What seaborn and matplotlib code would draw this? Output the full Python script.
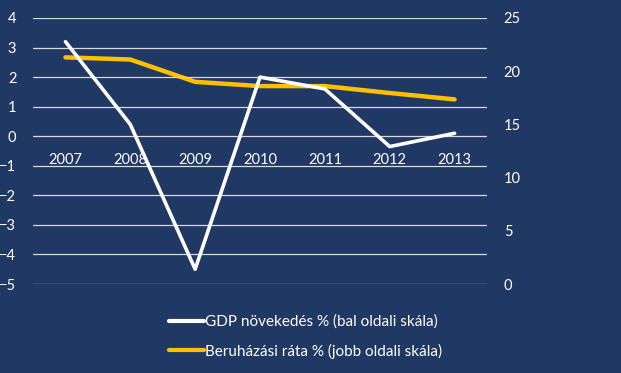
import matplotlib
matplotlib.use("Agg")
import matplotlib.pyplot as plt
import seaborn as sns
import pandas as pd
from matplotlib.lines import Line2D

years = ["2007", "2008", "2009", "2010", "2011", "2012", "2013"]
gdp = [3.2, 0.4, -4.5, 2.0, 1.6, -0.35, 0.1]
invest = [21.3, 21.1, 19.0, 18.6, 18.6, 17.95, 17.35]
gdp_label = "GDP növekedés % (bal oldali skála)"
inv_label = "Beruházási ráta % (jobb oldali skála)"
left_ticks = [4, 3, 2, 1, 0, -1, -2, -3, -4, -5]
right_ticks = [0, 5, 10, 15, 20, 25]

bg = "#203864"
sns.set_theme(style="white")
plt.rcParams["font.family"] = ["Lato", "DejaVu Sans"]

df = pd.DataFrame({"x": range(len(years)), "gdp": gdp, "inv": invest})

fig = plt.figure(figsize=(6.21, 3.73), dpi=100, facecolor=bg)
ax = fig.add_axes([33/621, 1-284/373, (487-33)/621, (284-18)/373])
ax.set_facecolor(bg)
ax2 = ax.twinx()

ax.set_ylim(-5, 4)
ax.set_yticks(left_ticks)
ax.set_xlim(-0.5, 6.5)
ax2.set_ylim(0, 25)
ax2.set_yticks(right_ticks)

for t in left_ticks:
    ax.axhline(t, color="#D9D9D9", lw=0.9, zorder=0)

sns.lineplot(data=df, x="x", y="inv", ax=ax2, color="#FFC000", lw=3.2, legend=False)
sns.lineplot(data=df, x="x", y="gdp", ax=ax, color="white", lw=2.6, legend=False)
ax.set_zorder(ax2.get_zorder() + 1)
ax.patch.set_visible(False)
ax2.patch.set_visible(False)
fig.patch.set_facecolor(bg)

ax.set_xticks(range(len(years)))
ax.set_xticklabels(years)
ax.spines["bottom"].set_position(("data", 0))
for a in (ax, ax2):
    for s in a.spines.values():
        s.set_visible(False)
    a.set_xlabel("")
    a.set_ylabel("")
ax.tick_params(axis="x", length=0, pad=12, colors="white", labelsize=10.5)
ax.tick_params(axis="y", length=0, pad=12, colors="white", labelsize=10.5)
ax2.tick_params(axis="y", length=0, pad=12, colors="white", labelsize=10.5)

handles = [Line2D([], [], color="white", lw=3), Line2D([], [], color="#FFC000", lw=3)]
leg = fig.legend(handles, [gdp_label, inv_label], loc="upper left",
                 bbox_to_anchor=(155/621, 1-301/373), frameon=False,
                 fontsize=11, labelcolor="white", handlelength=2.3,
                 handletextpad=0.1, labelspacing=0.95)

fig.savefig("out.png", dpi=100, facecolor=bg)
